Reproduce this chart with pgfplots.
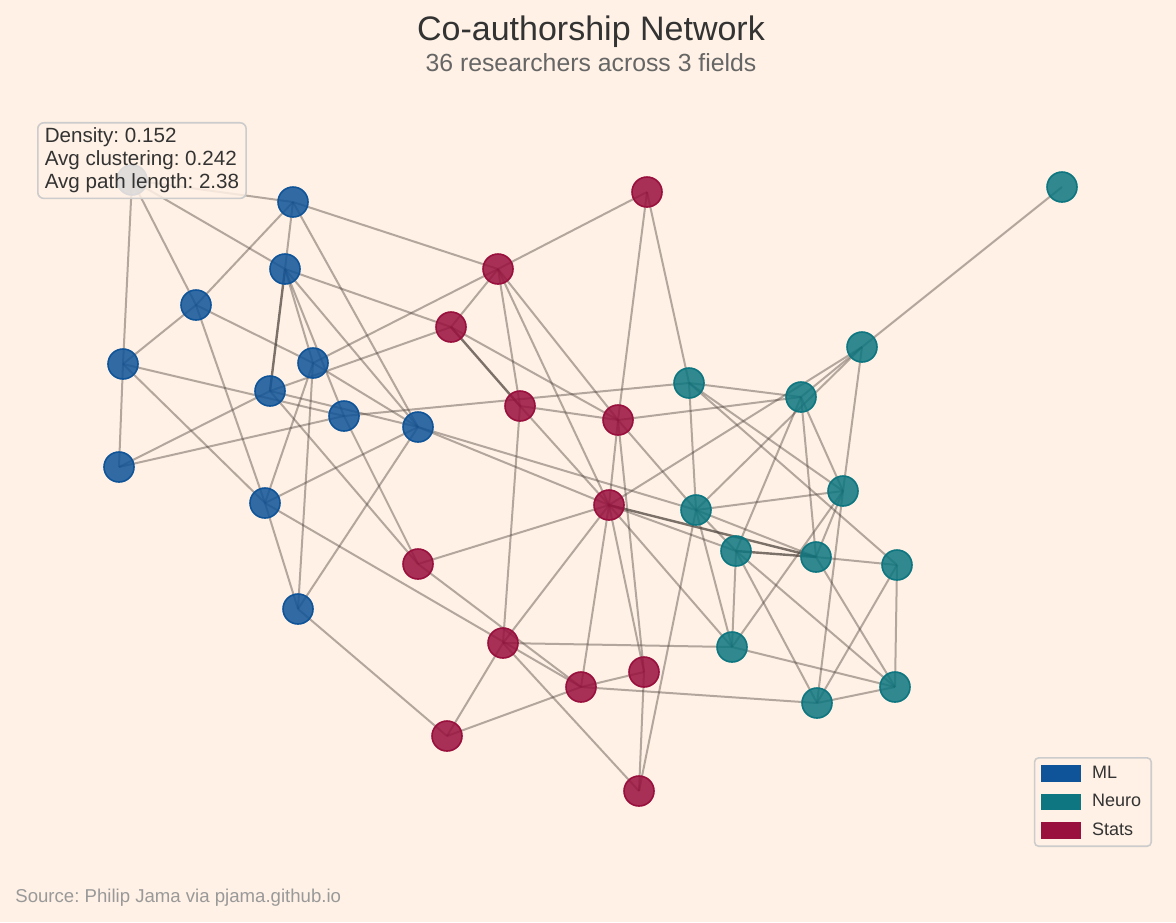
\documentclass[border=0pt]{standalone}
\usepackage{pgfplots}
\pgfplotsset{compat=1.18}
\usepackage{fontspec}
\setmainfont{Liberation Sans}
\frenchspacing

\definecolor{paper}{HTML}{FFF1E5}
\definecolor{mlc}{HTML}{0F5499}
\definecolor{neuroc}{HTML}{0D7680}
\definecolor{statsc}{HTML}{990F3D}
\definecolor{edgec}{HTML}{4A403A}
\definecolor{framec}{HTML}{CCCCCC}

\pgfplotsset{
  link/.style={forget plot, no markers, draw=edgec, draw opacity=0.42, line width=1pt},
  strong/.style={link, draw opacity=0.72, line width=1.2pt},
  vertex/.style={forget plot, only marks, mark=*, mark size=7.5pt,
    mark options={fill=#1, fill opacity=0.85, draw=#1, line width=0.8pt}},
}

\begin{document}
\begin{tikzpicture}
\begin{axis}[
  width=588pt, height=461pt, scale only axis,
  xmin=0, xmax=1176, ymin=0, ymax=922, y dir=reverse,
  axis line style={draw=none}, ticks=none,
  axis background/.style={fill=paper},
  legend image code/.code={\fill[sharp corners,#1] (0pt,-3.75pt) rectangle (19.5pt,3.75pt);},
  legend style={at={(axis cs:1152,847)}, anchor=south east,
    draw=framec, line width=0.8pt, rounded corners=2pt, fill=paper,
    font=\fontsize{9}{10}\selectfont, text=black!80,
    inner xsep=3pt, inner ysep=2pt, row sep=2.5pt, cells={anchor=west},
    /tikz/every odd column/.append style={column sep=3.5pt}},
]

% ML edges
\addplot[link] coordinates {(132,180) (293,202)};
\addplot[link] coordinates {(132,180) (285,269)};
\addplot[link] coordinates {(132,180) (196,305)};
\addplot[link] coordinates {(132,180) (123,364)};
\addplot[link] coordinates {(293,202) (285,269)};
\addplot[link] coordinates {(293,202) (196,305)};
\addplot[link] coordinates {(293,202) (418,427)};
\addplot[link] coordinates {(293,202) (498,269)};
\addplot[strong] coordinates {(285,269) (270,391)};
\addplot[link] coordinates {(285,269) (313,363)};
\addplot[link] coordinates {(285,269) (344,416)};
\addplot[link] coordinates {(285,269) (418,427)};
\addplot[link] coordinates {(285,269) (451,327)};
\addplot[link] coordinates {(196,305) (123,364)};
\addplot[link] coordinates {(196,305) (313,363)};
\addplot[link] coordinates {(196,305) (265,503)};
\addplot[link] coordinates {(123,364) (344,416)};
\addplot[link] coordinates {(123,364) (119,467)};
\addplot[link] coordinates {(123,364) (265,503)};
\addplot[link] coordinates {(313,363) (265,503)};
\addplot[link] coordinates {(313,363) (298,609)};
\addplot[link] coordinates {(313,363) (418,427)};
\addplot[link] coordinates {(313,363) (498,269)};
\addplot[link] coordinates {(270,391) (119,467)};
\addplot[link] coordinates {(270,391) (451,327)};
\addplot[link] coordinates {(270,391) (418,564)};
\addplot[link] coordinates {(270,391) (418,427)};
\addplot[link] coordinates {(344,416) (119,467)};
\addplot[link] coordinates {(344,416) (418,564)};
\addplot[link] coordinates {(344,416) (689,383)};
\addplot[link] coordinates {(418,427) (265,503)};
\addplot[link] coordinates {(418,427) (298,609)};
\addplot[link] coordinates {(418,427) (609,505)};
\addplot[link] coordinates {(418,427) (696,510)};
\addplot[link] coordinates {(265,503) (298,609)};
\addplot[link] coordinates {(265,503) (581,687)};
\addplot[link] coordinates {(298,609) (447,736)};

% Stats edges
\addplot[link] coordinates {(647,192) (498,269)};
\addplot[link] coordinates {(647,192) (618,420)};
\addplot[link] coordinates {(647,192) (689,383)};
\addplot[link] coordinates {(498,269) (451,327)};
\addplot[link] coordinates {(498,269) (520,406)};
\addplot[link] coordinates {(498,269) (618,420)};
\addplot[link] coordinates {(498,269) (609,505)};
\addplot[strong] coordinates {(451,327) (520,406)};
\addplot[link] coordinates {(451,327) (618,420)};
\addplot[link] coordinates {(520,406) (618,420)};
\addplot[link] coordinates {(520,406) (609,505)};
\addplot[link] coordinates {(520,406) (503,643)};
\addplot[link] coordinates {(618,420) (609,505)};
\addplot[link] coordinates {(618,420) (644,672)};
\addplot[link] coordinates {(618,420) (801,397)};
\addplot[link] coordinates {(618,420) (696,510)};
\addplot[link] coordinates {(609,505) (418,564)};
\addplot[link] coordinates {(609,505) (503,643)};
\addplot[link] coordinates {(609,505) (644,672)};
\addplot[link] coordinates {(609,505) (581,687)};
\addplot[link] coordinates {(609,505) (862,347)};
\addplot[link] coordinates {(609,505) (736,551)};
\addplot[strong] coordinates {(609,505) (816,557)};
\addplot[link] coordinates {(609,505) (732,647)};
\addplot[link] coordinates {(418,564) (581,687)};
\addplot[link] coordinates {(503,643) (447,736)};
\addplot[link] coordinates {(503,643) (639,791)};
\addplot[link] coordinates {(503,643) (732,647)};
\addplot[link] coordinates {(644,672) (581,687)};
\addplot[link] coordinates {(644,672) (639,791)};
\addplot[link] coordinates {(581,687) (447,736)};
\addplot[link] coordinates {(581,687) (817,703)};
\addplot[link] coordinates {(639,791) (696,510)};

% Neuro edges
\addplot[link] coordinates {(1062,187) (862,347)};
\addplot[link] coordinates {(862,347) (801,397)};
\addplot[link] coordinates {(862,347) (843,491)};
\addplot[link] coordinates {(862,347) (696,510)};
\addplot[link] coordinates {(689,383) (801,397)};
\addplot[link] coordinates {(689,383) (843,491)};
\addplot[link] coordinates {(689,383) (696,510)};
\addplot[link] coordinates {(689,383) (897,565)};
\addplot[link] coordinates {(801,397) (843,491)};
\addplot[link] coordinates {(801,397) (736,551)};
\addplot[link] coordinates {(801,397) (816,557)};
\addplot[link] coordinates {(843,491) (696,510)};
\addplot[link] coordinates {(843,491) (816,557)};
\addplot[link] coordinates {(843,491) (732,647)};
\addplot[link] coordinates {(843,491) (817,703)};
\addplot[link] coordinates {(696,510) (736,551)};
\addplot[link] coordinates {(696,510) (816,557)};
\addplot[link] coordinates {(696,510) (732,647)};
\addplot[strong] coordinates {(736,551) (816,557)};
\addplot[link] coordinates {(736,551) (732,647)};
\addplot[link] coordinates {(736,551) (817,703)};
\addplot[link] coordinates {(736,551) (895,687)};
\addplot[link] coordinates {(816,557) (897,565)};
\addplot[link] coordinates {(816,557) (895,687)};
\addplot[link] coordinates {(897,565) (817,703)};
\addplot[link] coordinates {(897,565) (895,687)};
\addplot[link] coordinates {(732,647) (895,687)};
\addplot[link] coordinates {(817,703) (895,687)};

% researchers
\addplot[vertex=mlc] coordinates {
  (132,180) (293,202) (285,269) (196,305) (123,364) (313,363)
  (270,391) (344,416) (418,427) (119,467) (265,503) (298,609)};
\addplot[vertex=neuroc] coordinates {
  (1062,187) (862,347) (689,383) (801,397) (843,491) (696,510)
  (736,551) (816,557) (897,565) (732,647) (817,703) (895,687)};
\addplot[vertex=statsc] coordinates {
  (647,192) (498,269) (451,327) (520,406) (618,420) (609,505)
  (418,564) (503,643) (644,672) (581,687) (447,736) (639,791)};

\addlegendimage{mlc}\addlegendentry{ML}
\addlegendimage{neuroc}\addlegendentry{Neuro}
\addlegendimage{statsc}\addlegendentry{Stats}

\coordinate (boxpos) at (37,122);

% titles
\node[anchor=base, inner sep=0pt, text=black!80, font=\fontsize{17}{20}\selectfont]
  at (591,40) {Co-authorship Network};
\node[anchor=base, inner sep=0pt, text=black!60, font=\fontsize{12.4}{14}\selectfont]
  at (591,71) {36 researchers across 3 fields};
\node[anchor=base west, inner sep=0pt, text=black!40, font=\fontsize{9.3}{11}\selectfont]
  at (15,902) {Source: Philip Jama via pjama.github.io};
\end{axis}

% stats box, drawn over the network
\node[anchor=north west, draw=framec, line width=0.8pt, rounded corners=3pt,
  fill=paper, fill opacity=0.85, text opacity=1, align=left,
  inner xsep=3.5pt, inner ysep=2.6pt, text=black!80,
  font=\fontsize{10.3}{11.5}\selectfont] at (boxpos)
  {Density: 0.152\\Avg clustering: 0.242\\Avg path length: 2.38};
\end{tikzpicture}
\end{document}
